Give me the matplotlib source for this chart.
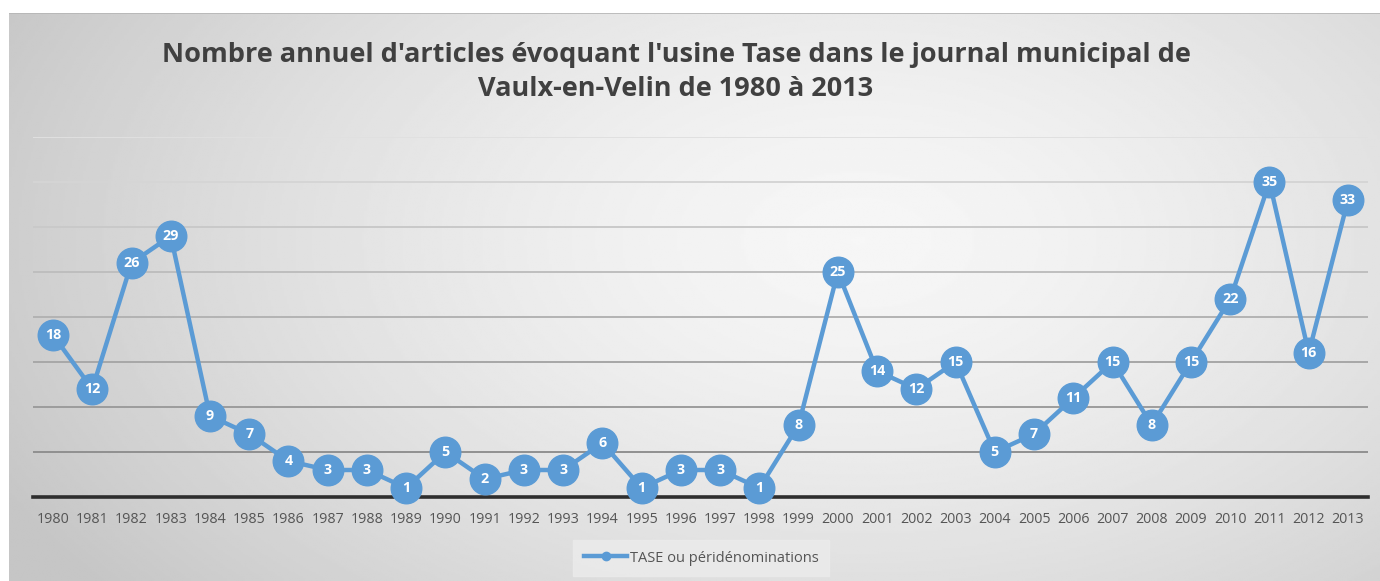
import numpy as np
import matplotlib.pyplot as plt

annees = [str(a) for a in range(1980, 2014)]
articles = [18, 12, 26, 29, 9, 7, 4, 3, 3, 1, 5, 2, 3, 3, 6, 1, 3, 3, 1, 8,
            25, 14, 12, 15, 5, 7, 11, 15, 8, 15, 22, 35, 16, 33]
nom_serie = "TASE ou péridénominations"
titre = "Nombre annuel d'articles évoquant l'usine Tase dans le journal municipal de\nVaulx-en-Velin de 1980 à 2013"

bleu = "#5b9bd5"

fig = plt.figure(figsize=(13.8, 5.81), dpi=100)
fig.patch.set_facecolor("white")

# fond en dégradé
fond = fig.add_axes([9 / 1380, 0, 1 - 9 / 1380, (581 - 13) / 581])
yy, xx = np.mgrid[0:1:300j, 0:1:600j]
d = np.sqrt(((xx - 0.62) / 0.7) ** 2 + ((yy - 0.4) / 1.0) ** 2)
gris = 0.965 - 0.19 * np.clip(d, 0, 1) ** 1.5
fond.imshow(gris, cmap="gray", vmin=0, vmax=1, aspect="auto", extent=[0, 1, 0, 1])
fond.set_xticks([])
fond.set_yticks([])
for s in fond.spines.values():
    s.set_visible(False)
fond.plot([0, 1], [1, 1], color="#b5b5b5", lw=1.2, transform=fond.transAxes)

ax = fig.add_axes([33.4 / 1380, (581 - 497) / 581, (1367.6 - 33.4) / 1380, (497 - 137) / 581])
ax.patch.set_alpha(0)
x = np.arange(len(annees))

# lignes de quadrillage, plus foncées vers le bas
for v in range(5, 45, 5):
    t = v / 40
    c = 0.52 + 0.36 * t
    ax.axhline(v, color=(c, c, c), lw=1.4, zorder=1)
ax.axhline(0, color="#2e2e2e", lw=2.6, zorder=2, clip_on=False)

ax.plot(x, articles, color=bleu, lw=3.2, marker="o", markersize=22,
        markerfacecolor=bleu, markeredgecolor=bleu, zorder=3, clip_on=False)
for xi, v in zip(x, articles):
    ax.text(xi, v, str(v), ha="center", va="center", color="white",
            fontsize=10.3, fontweight="bold", family="Open Sans", zorder=4)

ax.set_xlim(-0.5, len(annees) - 0.5)
ax.set_ylim(0, 40)
ax.set_yticks([])
ax.set_xticks(x)
ax.set_xticklabels(annees, fontsize=10.3, color="#555555", family="Open Sans")
ax.tick_params(axis="x", length=0, pad=11)
for s in ax.spines.values():
    s.set_visible(False)

fig.text(676 / 1380, 1 - 72 / 581, titre, ha="center", va="center",
         fontsize=19.5, fontweight="bold", color="#404040", family="Open Sans",
         linespacing=1.45)

leg = ax.legend([plt.Line2D([], [], color=bleu, lw=3.2, marker="o", markersize=6)],
                [nom_serie], loc="center", bbox_to_anchor=(701 / 1380, 1 - 558 / 581),
                bbox_transform=fig.transFigure, frameon=True, fancybox=False,
                handlelength=3.0, handletextpad=0.15, borderpad=0.75,
                borderaxespad=0, prop={"family": "Open Sans", "size": 10.5})
leg.get_frame().set_facecolor("#ebebeb")
leg.get_frame().set_edgecolor("#ebebeb")
leg.get_frame().set_alpha(0.85)
for t in leg.get_texts():
    t.set_color("#555555")

fig.savefig("out.png", dpi=100)
